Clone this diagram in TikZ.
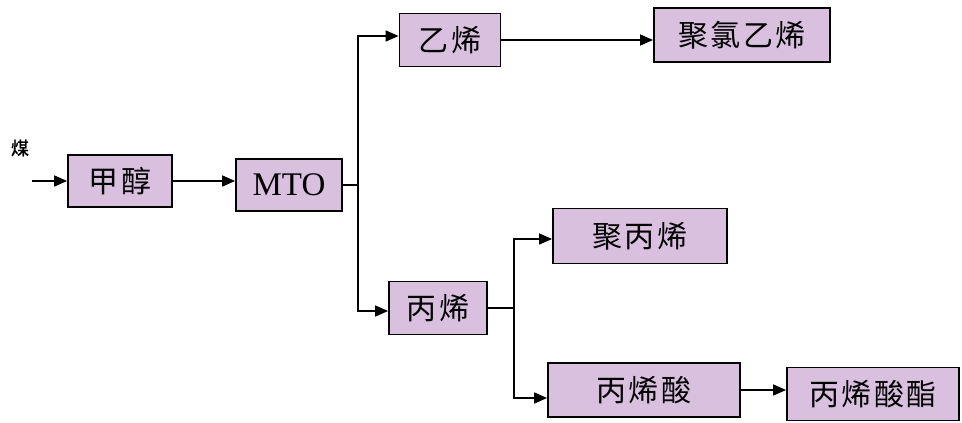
\documentclass[tikz,border=0pt]{standalone}
\usepackage{fontspec}
\newfontfamily\cjk[LetterSpace=8]{Noto Sans CJK SC}
\newfontfamily\cjkb[FakeBold=1.5]{Noto Sans CJK SC}
\setmainfont{Liberation Serif}
\usetikzlibrary{arrows.meta}
\definecolor{boxfill}{RGB}{216,192,222}
\begin{document}
\begin{tikzpicture}[x=1pt,y=-1pt,
  pbox/.style={draw=black,line width=1.8pt,fill=boxfill,inner sep=0pt,anchor=center,font=\fontsize{30}{34}\selectfont\cjk},
  conn/.style={line width=1.5pt},
  arr/.style={conn,-{Triangle[length=13pt,width=11pt]}}]
\useasboundingbox (0,0) rectangle (962,423);
\node[pbox,minimum width=104pt,minimum height=52pt] (jc) at (120,181) {甲醇};
\node[pbox,minimum width=106pt,minimum height=52pt,font=\fontsize{33}{36}\selectfont\rmfamily] (mto) at (289,185) {MTO};
\node[pbox,minimum width=101pt,minimum height=53pt] (yx) at (450,40) {乙烯};
\node[pbox,minimum width=176pt,minimum height=54pt] (jlyx) at (742,35) {聚氯乙烯};
\node[pbox,minimum width=98pt,minimum height=53pt] (bx) at (438,308) {丙烯};
\node[pbox,minimum width=174pt,minimum height=55pt] (jbx) at (640,236) {聚丙烯};
\node[pbox,minimum width=192pt,minimum height=54pt] (bxs) at (644,390) {丙烯酸};
\node[pbox,minimum width=172pt,minimum height=53pt] (bxsz) at (873,394) {丙烯酸酯};
\node[font=\fontsize{18}{20}\selectfont\cjkb] (mei) at (20,148) {煤};
\coordinate (in) at (32,181);
\coordinate (s1) at (358,185);
\coordinate (s2) at (514,308);
\draw[arr] (in) -- (jc.west);
\draw[arr] (jc.east) -- (mto.west |- jc.east);
\draw[conn] (mto.east) -- (s1);
\draw[arr] (s1) |- ([yshift=4pt]yx.west);
\draw[arr] (s1) |- ([yshift=-3pt]bx.west);
\draw[arr] (yx.east) -- (jlyx.west |- yx.east);
\draw[conn] (bx.east) -- (s2);
\draw[arr] (s2) |- ([yshift=-3pt]jbx.west);
\draw[arr] (s2) |- ([yshift=-8pt]bxs.west);
\draw[arr] (bxs.east) -- (bxsz.west |- bxs.east);
\end{tikzpicture}
\end{document}
